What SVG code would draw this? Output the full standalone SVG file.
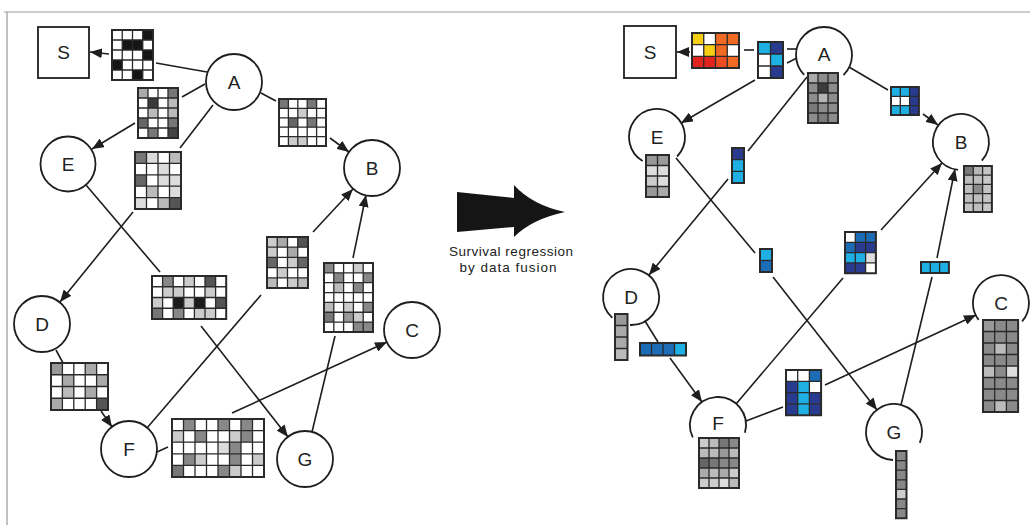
<svg xmlns="http://www.w3.org/2000/svg" width="1030" height="525" viewBox="0 0 1030 525">
<style>
.frame{fill:none;stroke:#9a9a9a;stroke-width:1.2}
.ln{fill:none;stroke:#1e1e1e;stroke-width:1.6}
.ar{fill:none;stroke:#1e1e1e;stroke-width:1.6;marker-end:url(#ah)}
.nd{fill:#fff;stroke:#1e1e1e;stroke-width:1.8}
.arc{fill:none;stroke:#1e1e1e;stroke-width:1.8}
.lb{font-family:"Liberation Sans",Arial,sans-serif;font-size:19px;fill:#222;text-anchor:middle}
.cap{font-family:"Liberation Sans",Arial,sans-serif;font-size:13.5px;fill:#222;text-anchor:middle}
.bg{fill:#fff}
.gr{fill:none;stroke:#2a2a2a;stroke-width:1.3;vector-effect:non-scaling-stroke}
.ol{fill:none;stroke:#2a2a2a;stroke-width:2;vector-effect:non-scaling-stroke}
.k{fill:#151515}.L{fill:#1fb0e3}.M{fill:#1c6db5}.D{fill:#293b8f}
.Y{fill:#f6cf14}.O{fill:#f06a23}.R{fill:#e1251c}.O2{fill:#eb4d20}
</style>
<defs>
<marker id="ah" viewBox="0 0 12 10" refX="12" refY="5" markerWidth="12" markerHeight="10" markerUnits="userSpaceOnUse" orient="auto"><path d="M0,0 L12,5 L0,10 z" fill="#1e1e1e"/></marker>
</defs>
<rect width="1030" height="525" fill="#fff"/>
<path class="frame" d="M4,12 H1030 M7,12 V525"/>

<g id="connectors">
<path class="ln" d="M207,72 L156,63"/>
<path class="ar" d="M109,54 L90,52"/>
<path class="ln" d="M205,84 L182,97"/>
<path class="ar" d="M135,123 L92,149"/>
<path class="ln" d="M213,105 L180,148"/>
<path class="ar" d="M133,212 L60,302"/>
<path class="ln" d="M86,185 L160,272"/>
<path class="ar" d="M201,326 L288,437"/>
<path class="ln" d="M261,93 L276,101"/>
<path class="ar" d="M330,138 L349,152"/>
<path class="ln" d="M56,350 L63,363"/>
<path class="ar" d="M101,411 L112,427"/>
<path class="ln" d="M147,428 L261,295"/>
<path class="ar" d="M313,232 L353,189"/>
<path class="ln" d="M312,432 L335,336"/>
<path class="ar" d="M353,258 L366,195"/>
<path class="ln" d="M157,452 L168,447"/>
<path class="ar" d="M232,413 L387,342"/>
<path class="ln" d="M787,49 L797,49"/>
<path class="ln" d="M744,50 L754,50"/>
<path class="ar" d="M690,52 L677,52"/>
<path class="ln" d="M787,63 L797,58"/>
<path class="ar" d="M755,80 L681,123"/>
<path class="ln" d="M807,77 L748,151"/>
<path class="ar" d="M728,179 L649,275"/>
<path class="ln" d="M849,67 L888,90"/>
<path class="ar" d="M923,114 L938,125"/>
<path class="ln" d="M676,158 L755,253"/>
<path class="ar" d="M773,277 L877,410"/>
<path class="ln" d="M645,321 L658,342"/>
<path class="ar" d="M670,358 L702,402"/>
<path class="ln" d="M736,404 L843,278"/>
<path class="ar" d="M881,230 L942,163"/>
<path class="ln" d="M746,421 L783,407"/>
<path class="ar" d="M825,385 L976,315"/>
<path class="ln" d="M901,405 L932,277"/>
<path class="ar" d="M937,258 L955,169"/>
</g>

<g id="L_S"><rect class="nd" x="38" y="27" width="51" height="51"/><text class="lb" x="63.5" y="59">S</text></g>
<g id="L_A"><circle class="nd" cx="234" cy="82" r="28"/><text class="lb" x="234" y="89">A</text></g>
<g id="L_E"><circle class="nd" cx="68" cy="164" r="27.5"/><text class="lb" x="68" y="171">E</text></g>
<g id="L_B"><circle class="nd" cx="372" cy="168" r="28"/><text class="lb" x="372" y="175">B</text></g>
<g id="L_D"><circle class="nd" cx="42" cy="324" r="28"/><text class="lb" x="42" y="331">D</text></g>
<g id="L_F"><circle class="nd" cx="129" cy="449" r="28"/><text class="lb" x="129" y="456">F</text></g>
<g id="L_G"><circle class="nd" cx="305" cy="459" r="28"/><text class="lb" x="305" y="466">G</text></g>
<g id="L_C"><circle class="nd" cx="412" cy="330" r="28"/><text class="lb" x="412" y="337">C</text></g>

<g id="m_L_AS" transform="translate(112,30) scale(10.25,10)">
<rect class="bg" width="4" height="5"/>
<rect class="k" x="3" y="0" width="1" height="1"/><rect class="k" x="1" y="1" width="1" height="1"/><rect class="k" x="2" y="1" width="1" height="1"/><rect class="k" x="3" y="2" width="1" height="1"/><rect class="k" x="0" y="3" width="1" height="1"/><rect class="k" x="2" y="4" width="1" height="1"/>
<path class="gr" d="M1,0V5M2,0V5M3,0V5M0,1H4M0,2H4M0,3H4M0,4H4"/><rect class="ol" width="4" height="5"/>
</g>
<g id="m_L_AE" transform="translate(138,88) scale(10,10)">
<rect class="bg" width="4" height="5"/>
<rect fill="#aaa" x="0" y="0" width="1" height="1"/><rect fill="#777" x="3" y="0" width="1" height="1"/>
<rect fill="#3a3a3a" x="1" y="1" width="1" height="1"/><rect fill="#bbb" x="3" y="1" width="1" height="1"/>
<rect fill="#bbb" x="1" y="2" width="1" height="1"/><rect fill="#bbb" x="3" y="2" width="1" height="1"/>
<rect fill="#666" x="0" y="3" width="1" height="1"/><rect fill="#777" x="3" y="3" width="1" height="1"/>
<rect fill="#777" x="1" y="4" width="1" height="1"/><rect fill="#444" x="3" y="4" width="1" height="1"/>
<path class="gr" d="M1,0V5M2,0V5M3,0V5M0,1H4M0,2H4M0,3H4M0,4H4"/><rect class="ol" width="4" height="5"/>
</g>
<g id="m_L_AD" transform="translate(135,152) scale(11.5,11.4)">
<rect class="bg" width="4" height="5"/>
<rect fill="#777" x="0" y="0" width="1" height="1"/><rect fill="#ddd" x="1" y="0" width="1" height="1"/><rect fill="#bbb" x="3" y="0" width="1" height="1"/>
<rect fill="#ddd" x="2" y="1" width="1" height="1"/>
<rect fill="#666" x="0" y="2" width="1" height="1"/><rect fill="#ddd" x="2" y="2" width="1" height="1"/><rect fill="#ddd" x="3" y="2" width="1" height="1"/>
<rect fill="#bbb" x="1" y="3" width="1" height="1"/><rect fill="#ddd" x="3" y="3" width="1" height="1"/>
<rect fill="#ddd" x="0" y="4" width="1" height="1"/><rect fill="#bbb" x="2" y="4" width="1" height="1"/><rect fill="#555" x="3" y="4" width="1" height="1"/>
<path class="gr" d="M1,0V5M2,0V5M3,0V5M0,1H4M0,2H4M0,3H4M0,4H4"/><rect class="ol" width="4" height="5"/>
</g>
<g id="m_L_AB" transform="translate(279,99) scale(9.4,9.4)">
<rect class="bg" width="5" height="5"/>
<rect fill="#777" x="0" y="0" width="1" height="1"/><rect fill="#777" x="3" y="0" width="1" height="1"/>
<rect fill="#ccc" x="2" y="1" width="1" height="1"/>
<rect fill="#666" x="1" y="2" width="1" height="1"/><rect fill="#777" x="3" y="2" width="1" height="1"/>
<rect fill="#ccc" x="1" y="4" width="1" height="1"/><rect fill="#ccc" x="2" y="4" width="1" height="1"/>
<path class="gr" d="M1,0V5M2,0V5M3,0V5M4,0V5M0,1H5M0,2H5M0,3H5M0,4H5"/><rect class="ol" width="5" height="5"/>
</g>
<g id="m_L_EG" transform="translate(152,276) scale(10.6,10.75)">
<rect class="bg" width="7" height="4"/>
<rect fill="#888" x="1" y="0" width="1" height="1"/><rect fill="#ccc" x="3" y="0" width="1" height="1"/><rect fill="#555" x="5" y="0" width="1" height="1"/>
<rect fill="#ccc" x="1" y="1" width="1" height="1"/><rect fill="#ccc" x="2" y="1" width="1" height="1"/><rect fill="#ccc" x="5" y="1" width="1" height="1"/>
<rect fill="#ccc" x="0" y="2" width="1" height="1"/><rect fill="#1c1c1c" x="2" y="2" width="1" height="1"/><rect fill="#ccc" x="3" y="2" width="1" height="1"/><rect fill="#1c1c1c" x="4" y="2" width="1" height="1"/><rect fill="#555" x="6" y="2" width="1" height="1"/>
<rect fill="#777" x="0" y="3" width="1" height="1"/><rect fill="#888" x="2" y="3" width="1" height="1"/><rect fill="#ccc" x="4" y="3" width="1" height="1"/><rect fill="#ccc" x="5" y="3" width="1" height="1"/>
<path class="gr" d="M1,0V4M2,0V4M3,0V4M4,0V4M5,0V4M6,0V4M0,1H7M0,2H7M0,3H7"/><rect class="ol" width="7" height="4"/>
</g>
<g id="m_L_FB" transform="translate(267,237) scale(10.25,10.2)">
<rect class="bg" width="4" height="5"/>
<rect fill="#ccc" x="0" y="0" width="1" height="1"/><rect fill="#aaa" x="1" y="0" width="1" height="1"/><rect fill="#555" x="3" y="0" width="1" height="1"/>
<rect fill="#ccc" x="0" y="1" width="1" height="1"/><rect fill="#aaa" x="2" y="1" width="1" height="1"/>
<rect fill="#666" x="0" y="2" width="1" height="1"/><rect fill="#ccc" x="2" y="2" width="1" height="1"/><rect fill="#666" x="3" y="2" width="1" height="1"/>
<rect fill="#ccc" x="1" y="3" width="1" height="1"/>
<rect fill="#bbb" x="0" y="4" width="1" height="1"/><rect fill="#ccc" x="2" y="4" width="1" height="1"/><rect fill="#bbb" x="3" y="4" width="1" height="1"/>
<path class="gr" d="M1,0V5M2,0V5M3,0V5M0,1H4M0,2H4M0,3H4M0,4H4"/><rect class="ol" width="4" height="5"/>
</g>
<g id="m_L_GB" transform="translate(324,263) scale(9.8,9.85)">
<rect class="bg" width="5" height="7"/>
<rect fill="#888" x="0" y="0" width="1" height="1"/><rect fill="#ccc" x="3" y="0" width="1" height="1"/>
<rect fill="#888" x="1" y="1" width="1" height="1"/><rect fill="#888" x="4" y="1" width="1" height="1"/>
<rect fill="#bbb" x="1" y="2" width="1" height="1"/><rect fill="#888" x="3" y="2" width="1" height="1"/>
<rect fill="#bbb" x="0" y="4" width="1" height="1"/><rect fill="#ccc" x="2" y="4" width="1" height="1"/><rect fill="#888" x="4" y="4" width="1" height="1"/>
<rect fill="#777" x="0" y="5" width="1" height="1"/><rect fill="#999" x="2" y="5" width="1" height="1"/><rect fill="#ccc" x="3" y="5" width="1" height="1"/>
<rect fill="#888" x="3" y="6" width="1" height="1"/><rect fill="#888" x="4" y="6" width="1" height="1"/>
<path class="gr" d="M1,0V7M2,0V7M3,0V7M4,0V7M0,1H5M0,2H5M0,3H5M0,4H5M0,5H5M0,6H5"/><rect class="ol" width="5" height="7"/>
</g>
<g id="m_L_DF" transform="translate(51,363) scale(11.4,11.75)">
<rect class="bg" width="5" height="4"/>
<rect fill="#999" x="0" y="0" width="1" height="1"/><rect fill="#aaa" x="3" y="0" width="1" height="1"/>
<rect fill="#aaa" x="1" y="1" width="1" height="1"/><rect fill="#aaa" x="4" y="1" width="1" height="1"/>
<rect fill="#bbb" x="1" y="2" width="1" height="1"/><rect fill="#aaa" x="3" y="2" width="1" height="1"/>
<rect fill="#aaa" x="0" y="3" width="1" height="1"/><rect fill="#555" x="4" y="3" width="1" height="1"/>
<path class="gr" d="M1,0V4M2,0V4M3,0V4M4,0V4M0,1H5M0,2H5M0,3H5"/><rect class="ol" width="5" height="4"/>
</g>
<g id="m_L_FC" transform="translate(172,419) scale(11.5,11.6)">
<rect class="bg" width="8" height="5"/>
<rect fill="#888" x="1" y="0" width="1" height="1"/><rect fill="#888" x="4" y="0" width="1" height="1"/><rect fill="#888" x="6" y="0" width="1" height="1"/>
<rect fill="#ccc" x="0" y="1" width="1" height="1"/><rect fill="#888" x="2" y="1" width="1" height="1"/><rect fill="#ccc" x="5" y="1" width="1" height="1"/><rect fill="#888" x="6" y="1" width="1" height="1"/>
<rect fill="#ddd" x="4" y="2" width="1" height="1"/><rect fill="#888" x="5" y="2" width="1" height="1"/>
<rect fill="#888" x="1" y="3" width="1" height="1"/><rect fill="#ccc" x="2" y="3" width="1" height="1"/><rect fill="#888" x="5" y="3" width="1" height="1"/><rect fill="#ccc" x="7" y="3" width="1" height="1"/>
<rect fill="#777" x="0" y="4" width="1" height="1"/><rect fill="#888" x="4" y="4" width="1" height="1"/><rect fill="#ccc" x="5" y="4" width="1" height="1"/>
<path class="gr" d="M1,0V5M2,0V5M3,0V5M4,0V5M5,0V5M6,0V5M7,0V5M0,1H8M0,2H8M0,3H8M0,4H8"/><rect class="ol" width="8" height="5"/>
</g>

<g id="bigarrow">
<path d="M457,192 L514,198 L514,185 Q532,205 565,212 Q532,219 514,237 L514,227 L457,232 Z" fill="#151515"/>
<text class="cap" x="511" y="256" textLength="124" lengthAdjust="spacing">Survival regression</text>
<text class="cap" x="508" y="272" textLength="97" lengthAdjust="spacing">by data fusion</text>
</g>

<g id="R_S"><rect class="nd" x="624" y="26" width="52" height="52"/><text class="lb" x="650" y="59">S</text></g>
<g id="R_A"><path class="arc" d="M804.2,74.8 A28,28 0 1 1 843.5,75.1"/><text class="lb" x="824" y="61">A</text></g>
<g id="R_E"><path class="arc" d="M642.6,161 A28,28 0 1 1 677.1,156.5"/><text class="lb" x="657" y="144">E</text></g>
<g id="R_B"><path class="arc" d="M958.1,169.9 A28,28 0 1 1 981.8,160.7"/><text class="lb" x="961" y="149">B</text></g>
<g id="R_D"><path class="arc" d="M612.3,317.8 A28,28 0 1 1 630,325"/><text class="lb" x="631" y="304">D</text></g>
<g id="R_F"><path class="arc" d="M692.8,437.3 A28,28 0 1 1 744.9,432.7"/><text class="lb" x="718" y="430">F</text></g>
<g id="R_C"><path class="arc" d="M978.6,319.9 A28,28 0 1 1 1022.1,321.4"/><text class="lb" x="1001" y="310">C</text></g>
<g id="R_G"><path class="arc" d="M893,460 A28,28 0 1 1 919.8,442.9"/><text class="lb" x="894" y="439">G</text></g>

<g id="m_R_S" transform="translate(692,33) scale(11.75,11.7)">
<rect class="bg" width="4" height="3"/>
<rect class="Y" x="0" y="0" width="1" height="1"/><rect class="O" x="2" y="0" width="1" height="1"/><rect class="O" x="3" y="0" width="1" height="1"/>
<rect class="Y" x="1" y="1" width="1" height="1"/><rect class="O" x="2" y="1" width="1" height="1"/>
<rect class="R" x="0" y="2" width="1" height="1"/><rect class="R" x="1" y="2" width="1" height="1"/><rect class="O2" x="2" y="2" width="1" height="1"/><rect class="O" x="3" y="2" width="1" height="1"/>
<path class="gr" d="M1,0V3M2,0V3M3,0V3M0,1H4M0,2H4"/><rect class="ol" width="4" height="3"/>
</g>
<g id="m_R_AS" transform="translate(758,42) scale(12.5,12)">
<rect class="bg" width="2" height="3"/>
<rect class="L" x="0" y="0" width="1" height="1"/><rect class="D" x="1" y="0" width="1" height="1"/>
<rect class="L" x="1" y="1" width="1" height="1"/><rect class="D" x="1" y="2" width="1" height="1"/>
<path class="gr" d="M1,0V3M0,1H2M0,2H2"/><rect class="ol" width="2" height="3"/>
</g>
<g id="m_R_A" transform="translate(808,73) scale(10,10)">
<rect fill="#aaa" x="0" y="0" width="1" height="1"/><rect fill="#8c8c8c" x="1" y="0" width="1" height="1"/><rect fill="#8c8c8c" x="2" y="0" width="1" height="1"/>
<rect fill="#8c8c8c" x="0" y="1" width="1" height="1"/><rect fill="#3c3c3c" x="1" y="1" width="1" height="1"/><rect fill="#8c8c8c" x="2" y="1" width="1" height="1"/>
<rect fill="#8c8c8c" x="0" y="2" width="1" height="1"/><rect fill="#b5b5b5" x="1" y="2" width="1" height="1"/><rect fill="#8c8c8c" x="2" y="2" width="1" height="1"/>
<rect fill="#7a7a7a" x="0" y="3" width="1" height="1"/><rect fill="#8c8c8c" x="1" y="3" width="1" height="1"/><rect fill="#8c8c8c" x="2" y="3" width="1" height="1"/>
<rect fill="#8c8c8c" x="0" y="4" width="1" height="1"/><rect fill="#7a7a7a" x="1" y="4" width="1" height="1"/><rect fill="#8c8c8c" x="2" y="4" width="1" height="1"/>
<path class="gr" d="M1,0V5M2,0V5M0,1H3M0,2H3M0,3H3M0,4H3"/><rect class="ol" width="3" height="5"/>
</g>
<g id="m_R_AB" transform="translate(891,87) scale(9.3,9.3)">
<rect class="bg" width="3" height="3"/>
<rect class="L" x="0" y="0" width="1" height="1"/><rect class="L" x="1" y="0" width="1" height="1"/><rect class="D" x="2" y="0" width="1" height="1"/>
<rect class="D" x="2" y="1" width="1" height="1"/>
<rect class="L" x="0" y="2" width="1" height="1"/><rect class="L" x="1" y="2" width="1" height="1"/><rect class="D" x="2" y="2" width="1" height="1"/>
<path class="gr" d="M1,0V3M2,0V3M0,1H3M0,2H3"/><rect class="ol" width="3" height="3"/>
</g>
<g id="m_R_B" transform="translate(964,166) scale(9.3,9.2)">
<rect fill="#7a7a7a" x="0" y="0" width="1" height="1"/><rect fill="#b8b8b8" x="1" y="0" width="1" height="1"/><rect fill="#c4c4c4" x="2" y="0" width="1" height="1"/>
<rect fill="#bdbdbd" x="0" y="1" width="1" height="1"/><rect fill="#bdbdbd" x="1" y="1" width="1" height="1"/><rect fill="#c8c8c8" x="2" y="1" width="1" height="1"/>
<rect fill="#bdbdbd" x="0" y="2" width="1" height="1"/><rect fill="#8a8a8a" x="1" y="2" width="1" height="1"/><rect fill="#c4c4c4" x="2" y="2" width="1" height="1"/>
<rect fill="#bdbdbd" x="0" y="3" width="1" height="1"/><rect fill="#bdbdbd" x="1" y="3" width="1" height="1"/><rect fill="#c4c4c4" x="2" y="3" width="1" height="1"/>
<rect fill="#c4c4c4" x="0" y="4" width="1" height="1"/><rect fill="#bdbdbd" x="1" y="4" width="1" height="1"/><rect fill="#c8c8c8" x="2" y="4" width="1" height="1"/>
<path class="gr" d="M1,0V5M2,0V5M0,1H3M0,2H3M0,3H3M0,4H3"/><rect class="ol" width="3" height="5"/>
</g>
<g id="m_R_E" transform="translate(646,155) scale(11.5,10.5)">
<rect fill="#999" x="0" y="0" width="1" height="1"/><rect fill="#999" x="1" y="0" width="1" height="1"/>
<rect fill="#ddd" x="0" y="1" width="1" height="1"/><rect fill="#ddd" x="1" y="1" width="1" height="1"/>
<rect fill="#ccc" x="0" y="2" width="1" height="1"/><rect fill="#ddd" x="1" y="2" width="1" height="1"/>
<rect fill="#999" x="0" y="3" width="1" height="1"/><rect fill="#aaa" x="1" y="3" width="1" height="1"/>
<path class="gr" d="M1,0V4M0,1H2M0,2H2M0,3H2"/><rect class="ol" width="2" height="4"/>
</g>
<g id="m_R_AD" transform="translate(732,148) scale(12,11.7)">
<rect class="D" x="0" y="0" width="1" height="1"/><rect class="L" x="0" y="1" width="1" height="1"/><rect class="L" x="0" y="2" width="1" height="1"/>
<path class="gr" d="M0,1H1M0,2H1"/><rect class="ol" width="1" height="3"/>
</g>
<g id="m_R_EG" transform="translate(760,249) scale(12,11.5)">
<rect class="L" x="0" y="0" width="1" height="1"/><rect class="M" x="0" y="1" width="1" height="1"/>
<path class="gr" d="M0,1H1"/><rect class="ol" width="1" height="2"/>
</g>
<g id="m_R_D" transform="translate(615,314) scale(12.5,11.5)">
<rect fill="#999" x="0" y="0" width="1" height="1"/><rect fill="#aaa" x="0" y="1" width="1" height="1"/><rect fill="#aaa" x="0" y="2" width="1" height="1"/><rect fill="#bbb" x="0" y="3" width="1" height="1"/>
<path class="gr" d="M0,1H1M0,2H1M0,3H1"/><rect class="ol" width="1" height="4"/>
</g>
<g id="m_R_DF" transform="translate(640,343) scale(11.5,12.6)">
<rect class="M" x="0" y="0" width="1" height="1"/><rect class="M" x="1" y="0" width="1" height="1"/><rect class="M" x="2" y="0" width="1" height="1"/><rect class="L" x="3" y="0" width="1" height="1"/>
<path class="gr" d="M1,0V1M2,0V1M3,0V1"/><rect class="ol" width="4" height="1"/>
</g>
<g id="m_R_F" transform="translate(699,438) scale(10,10)">
<rect fill="#ccc" x="0" y="0" width="1" height="1"/><rect fill="#bbb" x="1" y="0" width="1" height="1"/><rect fill="#777" x="2" y="0" width="1" height="1"/><rect fill="#888" x="3" y="0" width="1" height="1"/>
<rect fill="#bbb" x="0" y="1" width="1" height="1"/><rect fill="#bbb" x="1" y="1" width="1" height="1"/><rect fill="#999" x="2" y="1" width="1" height="1"/><rect fill="#bbb" x="3" y="1" width="1" height="1"/>
<rect fill="#666" x="0" y="2" width="1" height="1"/><rect fill="#777" x="1" y="2" width="1" height="1"/><rect fill="#888" x="2" y="2" width="1" height="1"/><rect fill="#888" x="3" y="2" width="1" height="1"/>
<rect fill="#aaa" x="0" y="3" width="1" height="1"/><rect fill="#bbb" x="1" y="3" width="1" height="1"/><rect fill="#aaa" x="2" y="3" width="1" height="1"/><rect fill="#ccc" x="3" y="3" width="1" height="1"/>
<rect fill="#ccc" x="0" y="4" width="1" height="1"/><rect fill="#ccc" x="1" y="4" width="1" height="1"/><rect fill="#ddd" x="2" y="4" width="1" height="1"/><rect fill="#bbb" x="3" y="4" width="1" height="1"/>
<path class="gr" d="M1,0V5M2,0V5M3,0V5M0,1H4M0,2H4M0,3H4M0,4H4"/><rect class="ol" width="4" height="5"/>
</g>
<g id="m_R_FB" transform="translate(845,232) scale(10.3,10.3)">
<rect class="bg" width="3" height="4"/>
<rect class="M" x="1" y="0" width="1" height="1"/><rect class="M" x="2" y="0" width="1" height="1"/>
<rect class="M" x="0" y="1" width="1" height="1"/><rect class="D" x="1" y="1" width="1" height="1"/><rect class="D" x="2" y="1" width="1" height="1"/>
<rect class="L" x="0" y="2" width="1" height="1"/><rect class="L" x="1" y="2" width="1" height="1"/><rect fill="#ddd" x="2" y="2" width="1" height="1"/>
<rect class="D" x="0" y="3" width="1" height="1"/><rect class="D" x="1" y="3" width="1" height="1"/>
<path class="gr" d="M1,0V4M2,0V4M0,1H3M0,2H3M0,3H3"/><rect class="ol" width="3" height="4"/>
</g>
<g id="m_R_FC" transform="translate(786,370) scale(11.7,11.3)">
<rect class="bg" width="3" height="4"/>
<rect class="M" x="2" y="0" width="1" height="1"/>
<rect class="D" x="0" y="1" width="1" height="1"/><rect class="L" x="1" y="1" width="1" height="1"/>
<rect class="D" x="0" y="2" width="1" height="1"/><rect class="L" x="1" y="2" width="1" height="1"/><rect class="D" x="2" y="2" width="1" height="1"/>
<rect class="D" x="0" y="3" width="1" height="1"/><rect class="L" x="1" y="3" width="1" height="1"/><rect class="D" x="2" y="3" width="1" height="1"/>
<path class="gr" d="M1,0V4M2,0V4M0,1H3M0,2H3M0,3H3"/><rect class="ol" width="3" height="4"/>
</g>
<g id="m_R_GB" transform="translate(921,262) scale(9.3,11)">
<rect class="L" width="3" height="1"/>
<path class="gr" d="M1,0V1M2,0V1"/><rect class="ol" width="3" height="1"/>
</g>
<g id="m_R_C" transform="translate(983,320) scale(11.7,11.5)">
<rect fill="#8a8a8a" width="3" height="8"/>
<rect fill="#999" x="0" y="0" width="1" height="1"/><rect fill="#bbb" x="1" y="2" width="1" height="1"/><rect fill="#bbb" x="0" y="4" width="1" height="1"/><rect fill="#ddd" x="2" y="4" width="1" height="1"/><rect fill="#bbb" x="1" y="7" width="1" height="1"/>
<path class="gr" d="M1,0V8M2,0V8M0,1H3M0,2H3M0,3H3M0,4H3M0,5H3M0,6H3M0,7H3"/><rect class="ol" width="3" height="8"/>
</g>
<g id="m_R_G" transform="translate(896,451) scale(10.5,9.6)">
<rect fill="#888" width="1" height="7"/><rect fill="#ccc" x="0" y="4" width="1" height="1"/>
<path class="gr" d="M0,1H1M0,2H1M0,3H1M0,4H1M0,5H1M0,6H1"/><rect class="ol" width="1" height="7"/>
</g>
</svg>
